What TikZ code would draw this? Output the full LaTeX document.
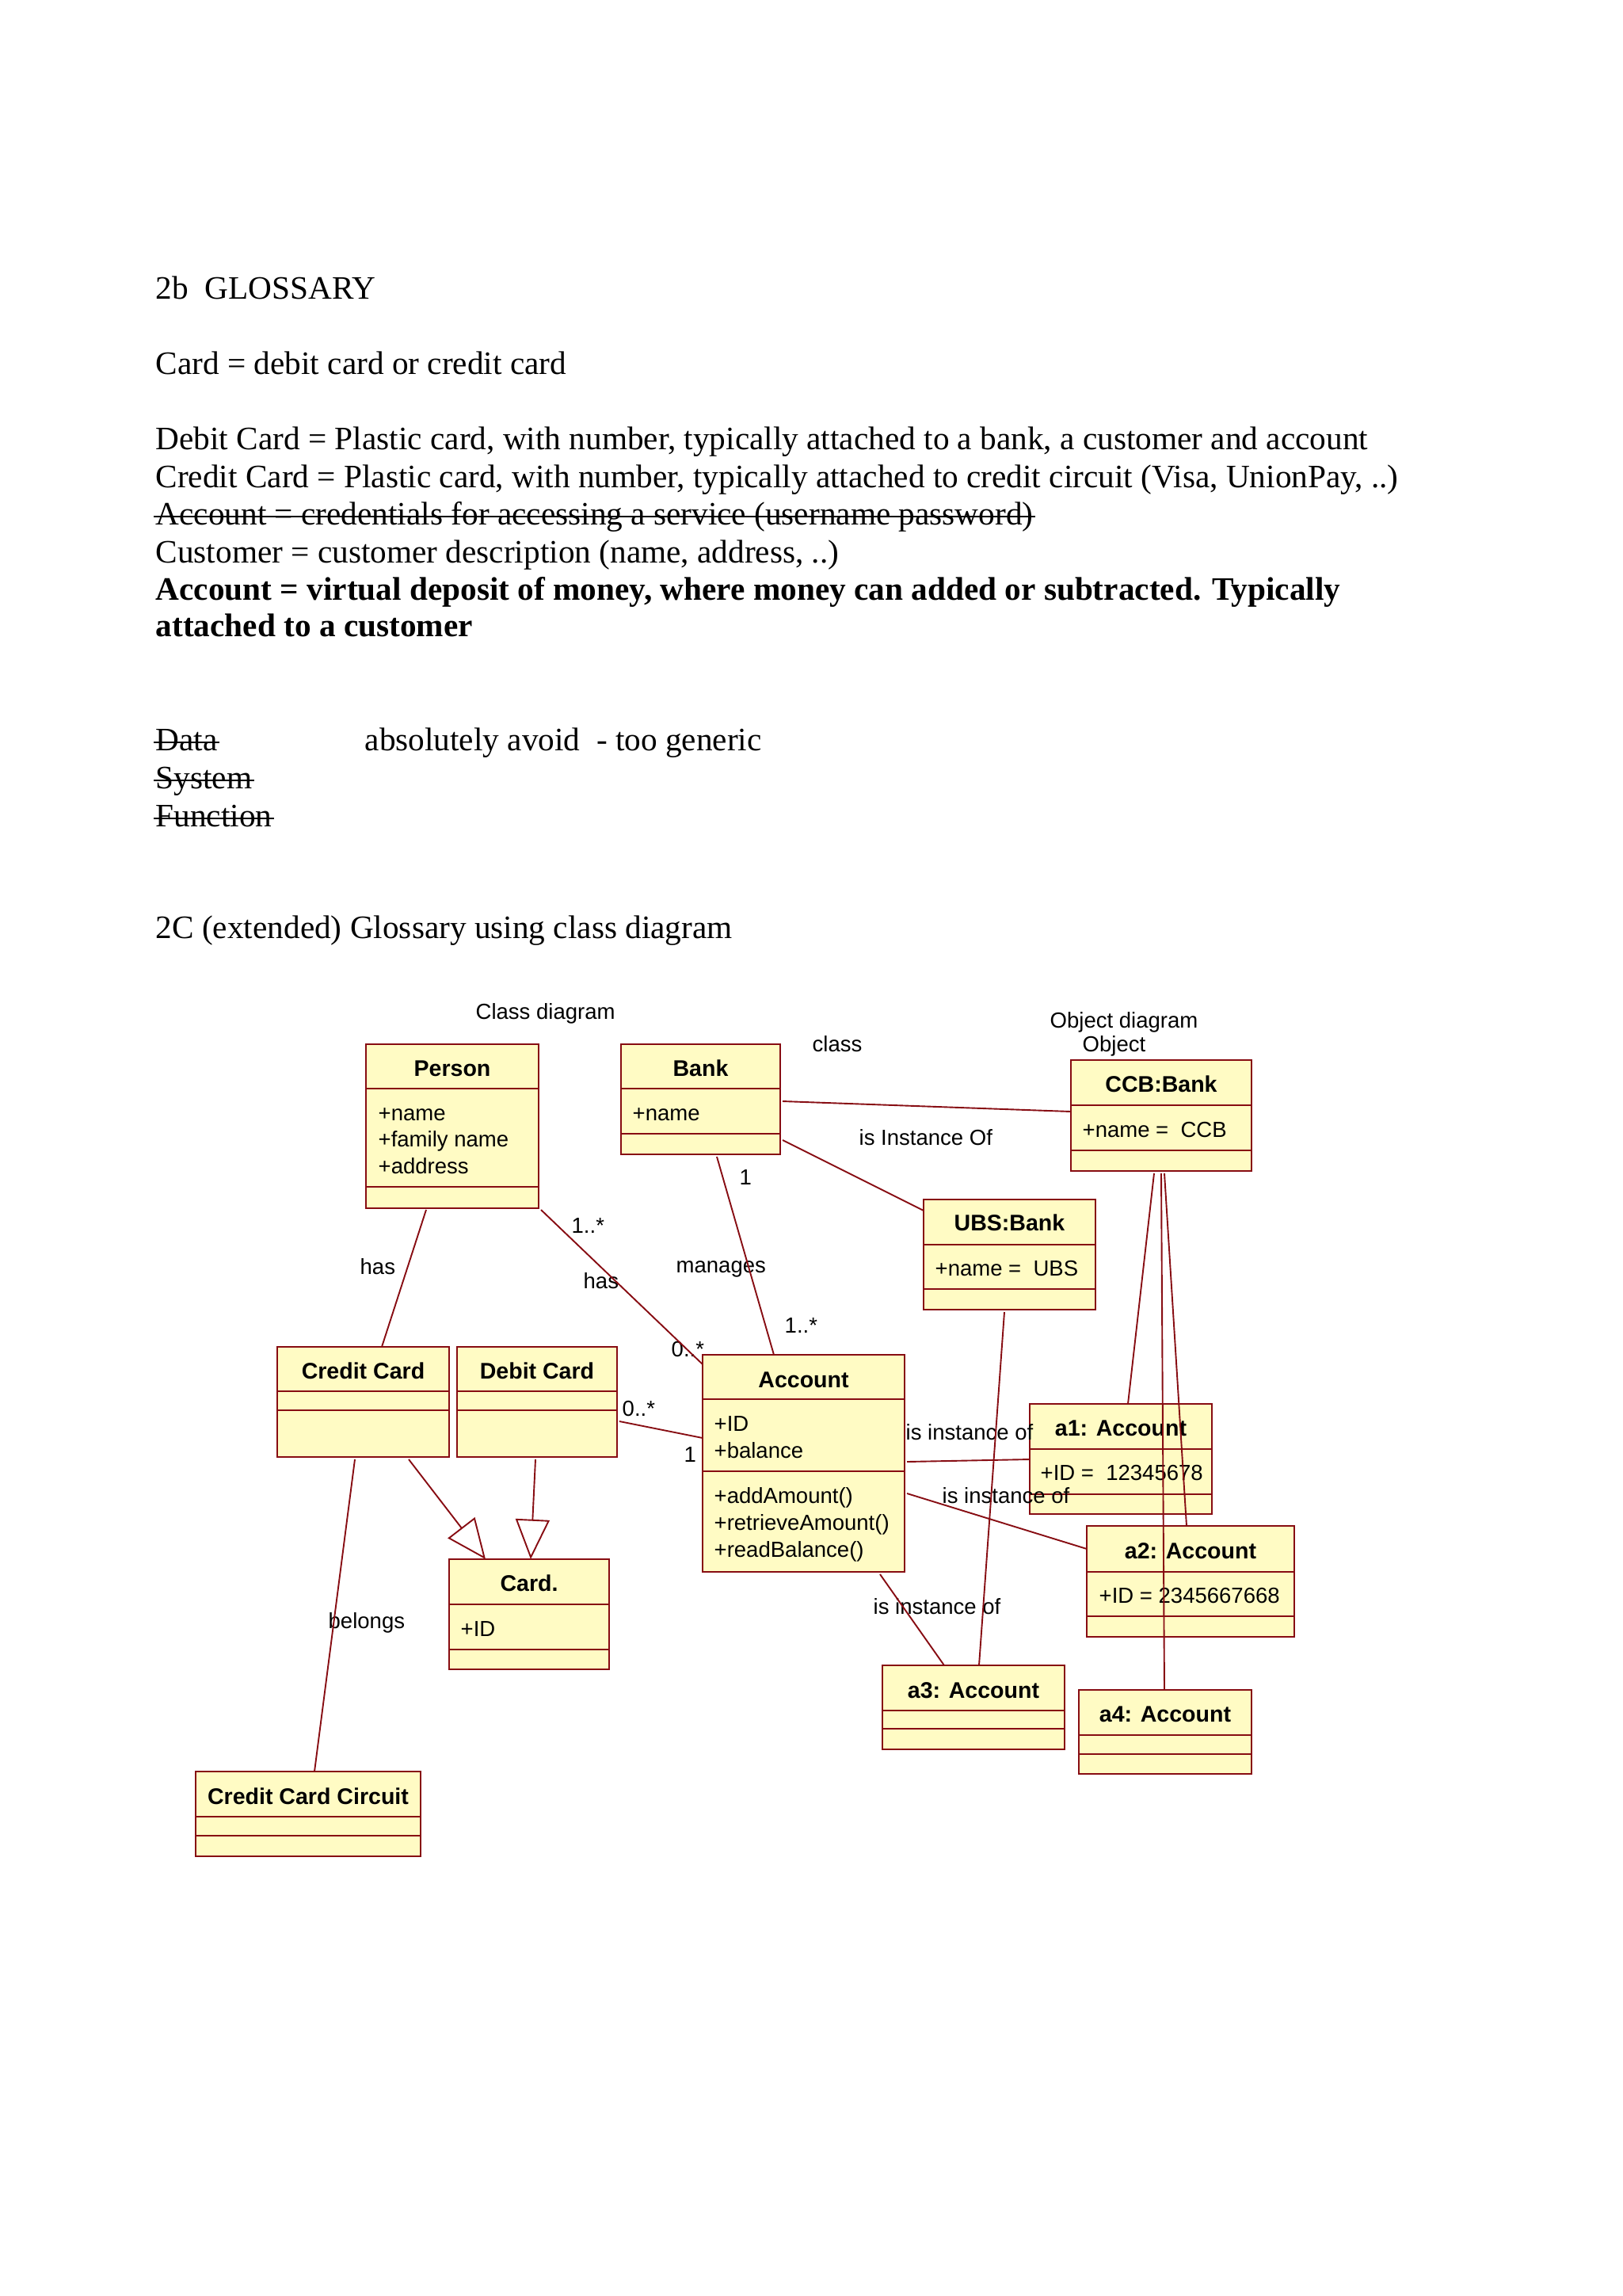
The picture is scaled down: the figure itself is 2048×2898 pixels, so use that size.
\documentclass[tikz,border=0pt]{standalone}
\usepackage{fontspec}
\setmainfont{Liberation Serif}
\newfontfamily\umlfont{Liberation Sans}
\usetikzlibrary{calc,fit,arrows.meta}
\definecolor{umlred}{RGB}{135,12,18}
\definecolor{umlfill}{RGB}{255,251,196}
\tikzset{
  gloss/.style={font=\fontsize{12}{14}\selectfont, anchor=base west, inner sep=0pt},
  glossbold/.style={gloss, font=\fontsize{12}{14}\selectfont\bfseries},
  strike/.style={line width=0.6pt, black},
  umlbox/.style={draw=umlred, fill=umlfill, line width=0.7pt, inner sep=0pt},
  umlsep/.style={draw=umlred, line width=0.7pt},
  umltitle/.style={font=\umlfont\bfseries\fontsize{8.3}{10}\selectfont, anchor=base, inner sep=0pt},
  umltext/.style={font=\umlfont\fontsize{8}{10}\selectfont, anchor=base west, inner sep=0pt},
  conn/.style={draw=umlred, line width=0.55pt},
  gen/.style={conn, -{Triangle[length=14.6pt, width=12.5pt, fill=white, line width=0.55pt]}},
}
\begin{document}
\begin{tikzpicture}[x=0.29067pt, y=-0.29067pt]
\useasboundingbox (0,0) rectangle (2048,2898);
\fill[white] (0,0) rectangle (2048,2898);

% ---------------- glossary text ----------------
\node[gloss] (t1) at (196,377) {2b\ \ GLOSSARY};
\node[gloss] (t2) at (196,472) {Card = debit card or credit card};
\node[gloss] (t3) at (196,567) {Debit Card = Plastic card, with number, typically attached to a bank, a customer and account};
\node[gloss] (t4) at (196,615) {Credit Card = Plastic card, with number, typically attached to credit circuit (Visa, UnionPay, ..)};
\node[gloss] (t5) at (196,662) {Account = credentials for accessing a service (username password)};
\node[gloss] (t6) at (196,710) {Customer = customer description (name, address, ..)};
\node[glossbold] (t7) at (196,757) {Account = virtual deposit of money, where money can added or subtracted. Typically};
\node[glossbold] (t8) at (196,803) {attached to a customer};
\node[gloss] (t9) at (196,947) {Data};
\node[gloss] (t10) at (460,947) {absolutely avoid\ \ - too generic};
\node[gloss] (t11) at (196,995) {System};
\node[gloss] (t12) at (196,1043) {Function};
\node[gloss] (t13) at (196,1184) {2C (extended) Glossary using class diagram};
\foreach \n in {t5,t9,t11,t12}
  \draw[strike] ($(\n.base west)+(-2,-10)$) -- ($(\n.base east)+(2,-10)$);

% ---------------- diagram labels ----------------
\node[umltext] (lclass) at (600,1286) {Class diagram};
\node[umltext] (lcls) at (1025,1327) {class};
\node[umltext] (lobjd) at (1325,1297) {Object diagram};
\node[umltext] (lobj) at (1366,1327) {Object};

% ---------------- boxes ----------------
% name, x1, y1, x2, y2, header line, attribute line
\foreach \nm/\xa/\ya/\xb/\yb/\yh/\yc in {
  person/462/1318/680/1525/1374/1498,
  bank/784/1318/985/1457/1374/1431,
  ccb/1352/1338/1580/1478/1395/1452,
  ubs/1166/1514/1383/1653/1571/1627,
  credit/350/1700/567/1839/1756/1780,
  debit/577/1700/779/1839/1756/1780,
  account/887/1710/1142/1984/1766/1857,
  aone/1300/1772/1530/1911/1829/1886,
  atwo/1372/1926/1634/2066/1984/2040,
  card/567/1968/769/2107/2025/2082,
  athree/1114/2102/1344/2208/2159/2182,
  afour/1362/2133/1580/2239/2190/2214,
  ccc/247/2236/531/2343/2293/2317}{
  \node[umlbox, fit={(\xa,\ya) (\xb,\yb)}] (\nm) {};
  \draw[umlsep] (\xa,\yh) -- (\xb,\yh) (\xa,\yc) -- (\xb,\yc);
}

% titles
\node[umltitle] (personT) at (571,1358) {Person};
\node[umltitle] (bankT) at (884.5,1358) {Bank};
\node[umltitle] (ccbT) at (1466,1378) {CCB:Bank};
\node[umltitle] (ubsT) at (1274.5,1553) {UBS:Bank};
\node[umltitle] (creditT) at (458.5,1740) {Credit Card};
\node[umltitle] (debitT) at (678,1740) {Debit Card};
\node[umltitle] (accountT) at (1014.5,1751) {Account};
\node[umltitle] (aoneT) at (1415,1812) {a1: Account};
\node[umltitle] (atwoT) at (1503,1967) {a2: Account};
\node[umltitle] (cardT) at (668,2008) {Card.};
\node[umltitle] (athreeT) at (1229,2143) {a3: Account};
\node[umltitle] (afourT) at (1471,2173) {a4: Account};
\node[umltitle] (cccT) at (389,2277) {Credit Card Circuit};

% attributes and operations
\node[umltext] (pa1) at (477,1414) {+name};
\node[umltext] (pa2) at (477,1447) {+family name};
\node[umltext] (pa3) at (477,1481) {+address};
\node[umltext] (ba1) at (798,1414) {+name};
\node[umltext] (ca1) at (1366,1435) {+name = \ CCB};
\node[umltext] (ua1) at (1180,1610) {+name = \ UBS};
\node[umltext] (aa1) at (901,1806) {+ID};
\node[umltext] (aa2) at (901,1840) {+balance};
\node[umltext] (ao1) at (901,1897) {+addAmount()};
\node[umltext] (ao2) at (901,1931) {+retrieveAmount()};
\node[umltext] (ao3) at (901,1965) {+readBalance()};
\node[umltext] (a1a) at (1313,1868) {+ID = \ 12345678};
\node[umltext] (a2a) at (1387,2023) {+ID = 2345667668};
\node[umltext] (cda) at (581,2065) {+ID};

% connector labels
\node[umltext] (lInst) at (1084,1445) {is Instance Of};
\node[umltext] (lone1) at (933,1495) {1};
\node[umltext] (lmult1) at (721,1556) {1..*};
\node[umltext] (lhas1) at (454,1608) {has};
\node[umltext] (lhas2) at (736,1626) {has};
\node[umltext] (lman) at (853,1606) {manages};
\node[umltext] (lmult2) at (990,1682) {1..*};
\node[umltext] (lmult3) at (847,1712) {0..*};
\node[umltext] (lmult4) at (785,1787) {0..*};
\node[umltext] (lone2) at (863,1845) {1};
\node[umltext] (lio1) at (1143,1817) {is instance of};
\node[umltext] (lio2) at (1189,1897) {is instance of};
\node[umltext] (lio3) at (1102,2037) {is instance of};
\node[umltext] (lbel) at (414,2055) {belongs};

% ---------------- connector end points ----------------
\coordinate (bankE1) at (988,1390);  \coordinate (ccbW) at (1352,1403);
\coordinate (bankE2) at (988,1439);  \coordinate (ubsW) at (1166,1528);
\coordinate (bankS) at (905,1460);   \coordinate (accN) at (977,1710);
\coordinate (persS1) at (683,1527);  \coordinate (accNW) at (887,1722);
\coordinate (persS2) at (538,1527);  \coordinate (credN) at (482,1700);
\coordinate (debE) at (782,1794);    \coordinate (accW) at (887,1815);
\coordinate (credS1) at (516,1842);  \coordinate (cardN1) at (613,1968);
\coordinate (debS) at (676,1842);    \coordinate (cardN2) at (670,1968);
\coordinate (credS2) at (448,1842);  \coordinate (cccN) at (397,2236);
\coordinate (accE1) at (1145,1845);  \coordinate (aoneW) at (1300,1842);
\coordinate (accE2) at (1145,1885);  \coordinate (atwoW) at (1372,1955);
\coordinate (accS) at (1111,1987);   \coordinate (athreeN1) at (1192,2102);
\coordinate (ubsS) at (1268,1656);   \coordinate (athreeN2) at (1236,2102);
\coordinate (ccbS1) at (1457,1481);  \coordinate (aoneN) at (1424,1772);
\coordinate (ccbS2) at (1466,1481);  \coordinate (afourN) at (1470,2133);
\coordinate (ccbS3) at (1470,1481);  \coordinate (atwoN) at (1498,1926);

% ---------------- connectors ----------------
\draw[conn] (bankE1) -- (ccbW);
\draw[conn] (bankE2) -- (ubsW);
\draw[conn] (bankS) -- (accN);
\draw[conn] (persS1) -- (accNW);
\draw[conn] (persS2) -- (credN);
\draw[conn] (debE) -- (accW);
\draw[gen] (credS1) -- (cardN1);
\draw[gen] (debS) -- (cardN2);
\draw[conn] (credS2) -- (cccN);
\draw[conn] (accE1) -- (aoneW);
\draw[conn] (accE2) -- (atwoW);
\draw[conn] (accS) -- (athreeN1);
\draw[conn] (ubsS) -- (athreeN2);
\draw[conn] (ccbS1) -- (aoneN);
\draw[conn] (ccbS2) -- (afourN);
\draw[conn] (ccbS3) -- (atwoN);
\end{tikzpicture}
\end{document}
